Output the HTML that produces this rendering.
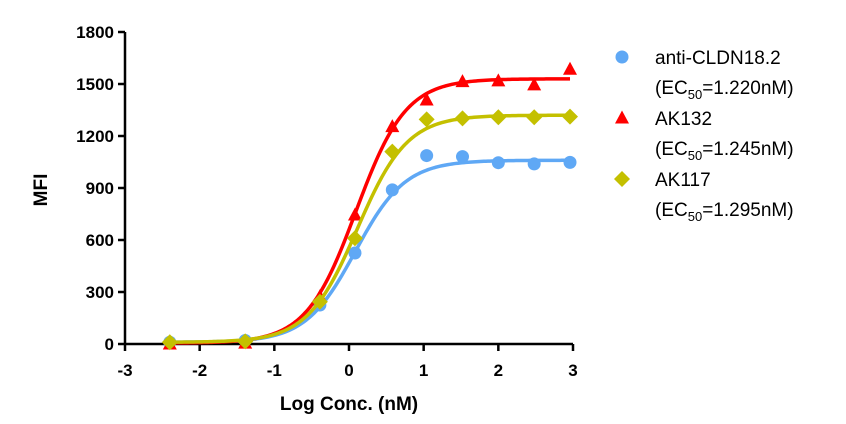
<!DOCTYPE html>
<html><head><meta charset="utf-8"><style>
body{margin:0;background:#fff;}
svg{display:block;font-family:"Liberation Sans",Arial,sans-serif;}
</style></head><body>
<svg id="chart" width="846" height="424" viewBox="0 0 846 424"></svg>
<script>
const xTicks=[-3,-2,-1,0,1,2,3];
const yTicks=[0,300,600,900,1200,1500,1800];
const concLog=[-2.4,-1.39,-0.39,0.08,0.58,1.04,1.52,2.0,2.48,2.96];
const blueVals=[10,20,225,525,889,1087,1081,1046,1039,1048];
const redVals=[0,5,273,744,1254,1408,1514,1518,1495,1585];
const yellowVals=[10,15,244,610,1110,1296,1302,1308,1308,1312];
const bottoms=[10,5,10];
const tops=[1060,1530,1320];
const logEC50=[0.086,0.095,0.112];
const hills=[1.3,1.3,1.3];
const seriesNames=["anti-CLDN18.2","AK132","AK117"];
const ecLabels=["1.220nM","1.245nM","1.295nM"];

const NS="http://www.w3.org/2000/svg";
const svg=document.getElementById('chart');
const X0=125,X1=573,Y0=344,Y1=32;
const xs=v=>X0+(v+3)/6*(X1-X0);
const ys=v=>Y0-v/1800*(Y0-Y1);
function mk(t,a,p){const e=document.createElementNS(NS,t);for(const k in a)e.setAttribute(k,a[k]);(p||svg).appendChild(e);return e;}

const axes=mk('g',{});


const ya=mk('line',{x1:X0,y1:Y1,x2:X0,y2:Y0,stroke:'#000','stroke-width':2.5},axes);


const xa=mk('line',{x1:X0,y1:Y0,x2:X1,y2:Y0,stroke:'#000','stroke-width':2.5},axes);


yTicks.forEach(v=>{
  mk('line',{x1:X0-7,y1:ys(v),x2:X0,y2:ys(v),stroke:'#000','stroke-width':2.5},axes);
  const t=mk('text',{x:X0-11,y:ys(v)+6,'text-anchor':'end','font-size':17,'font-weight':'bold'},axes);
  t.textContent=v;
  
  
});
xTicks.forEach(v=>{
  mk('line',{x1:xs(v),y1:Y0,x2:xs(v),y2:Y0+7,stroke:'#000','stroke-width':2.5},axes);
  const t=mk('text',{x:xs(v),y:Y0+32,'text-anchor':'middle','font-size':17,'font-weight':'bold'},axes);
  t.textContent=v;
  
  
});
const xt=mk('text',{x:349,y:410,'text-anchor':'middle','font-size':19,'font-weight':'bold'});
xt.textContent='Log Conc. (nM)';


const yt=mk('text',{x:47,y:190,'text-anchor':'middle','font-size':19,'font-weight':'bold',transform:'rotate(-90 47 190)'});
yt.textContent='MFI';



const colors=['#5fa8f5','#ff0000','#c4c000'];
const vals=[blueVals,redVals,yellowVals];
function marker(i,cx,cy,g){
  if(i===0) return mk('circle',{cx:cx,cy:cy,r:6.5,fill:colors[0]},g);
  if(i===1) return mk('polygon',{points:`${cx},${cy-7.5} ${cx+7},${cy+5.5} ${cx-7},${cy+5.5}`,fill:colors[1]},g);
  return mk('polygon',{points:`${cx},${cy-8} ${cx+8},${cy} ${cx},${cy+8} ${cx-8},${cy}`,fill:colors[2]},g);
}
const order=[0,1,2];
order.forEach(i=>{
  const g=mk('g',{});
  
  
  let d='';
  for(let k=0;k<=200;k++){
    const lx=-2.4+k*(2.96+2.4)/200;
    const y=bottoms[i]+(tops[i]-bottoms[i])/(1+Math.pow(10,(logEC50[i]-lx)*hills[i]));
    d+=(k?'L':'M')+xs(lx).toFixed(2)+','+ys(y).toFixed(2);
  }
  const p=mk('path',{d:d,fill:'none',stroke:colors[i],'stroke-width':3.5},g);
  
  
  concLog.forEach((c,j)=>{
    const m=marker(i,xs(c),ys(vals[i][j]),g);
    
    
  });
});

const lg=mk('g',{});


[0,1,2].forEach(i=>{
  const y0=57+i*61;
  const m=marker(i,622,y0,lg);
  
  
  const t1=mk('text',{x:655,y:y0+7,'font-size':19},lg);
  t1.textContent=seriesNames[i];
  
  
  const t2=mk('text',{x:655,y:y0+37,'font-size':19},lg);
  t2.innerHTML='(EC<tspan font-size="13" dy="5">50</tspan><tspan dy="-5">='+ecLabels[i]+')</tspan>';
  
  
});
</script>
</body></html>
